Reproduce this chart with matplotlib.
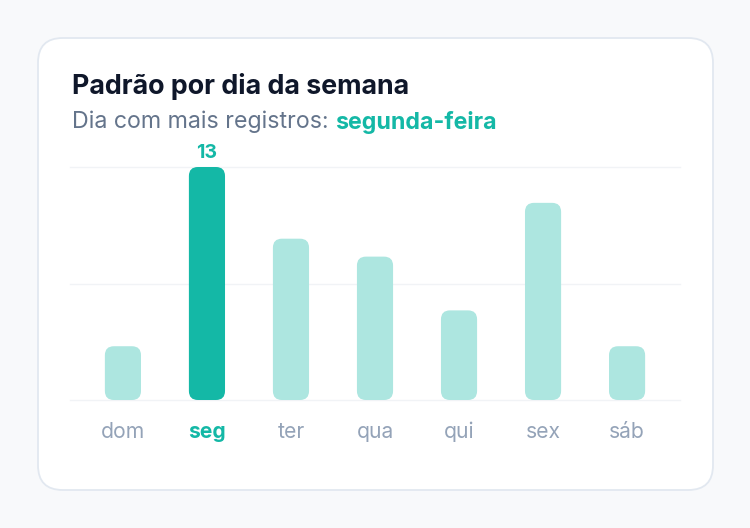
import numpy as np
import matplotlib.pyplot as plt
from matplotlib.patches import FancyBboxPatch

# dados
dias = ["dom", "seg", "ter", "qua", "qui", "sex", "sáb"]
registros = [3, 13, 9, 8, 5, 11, 3]
titulo = "Padrão por dia da semana"
subtitulo = "Dia com mais registros: "
destaque = "segunda-feira"

TEAL = "#14b8a6"
TEAL_CLARO = "#ade6e0"
CINZA = "#94a3b8"

W, H = 750, 528
fig = plt.figure(figsize=(W / 100, H / 100), dpi=100)
fig.patch.set_facecolor("#f8f9fb")

# cartão
card = FancyBboxPatch((38 / W, 38 / H), 675 / W, 452 / H,
                      boxstyle="round,pad=0,rounding_size=0.033",
                      mutation_aspect=W / H,
                      transform=fig.transFigure, facecolor="white",
                      edgecolor="#e2e8f0", linewidth=1.3, zorder=-5)
fig.patches.append(card)

fig.text(72 / W, 1 - 87 / H, titulo, fontsize=19.3, fontweight="bold",
         color="#0f172a", va="center", family="Inter")
t = fig.text(72 / W, 1 - 122 / H, subtitulo, fontsize=16.7,
             color="#64748b", va="center", family="Inter")
fig.canvas.draw()
bb = t.get_window_extent()
fig.text(bb.x1 / W, 1 - 122 / H, destaque, fontsize=16.7, fontweight="bold",
         color=TEAL, va="center", family="Inter")

ax = fig.add_axes([70 / W, (H - 400) / H, 610 / W, 233 / H], zorder=2)
ax.patch.set_visible(False)
ymax = max(registros)
x = np.arange(len(dias))
ax.set_xlim(-0.63, len(dias) - 1 + 0.63)
ax.set_ylim(0, ymax)
ax.axis("off")

for g in [0, ymax / 2, ymax]:
    ax.axhline(g, color="#f1f3f6", linewidth=1, zorder=0, clip_on=False)

imax = int(np.argmax(registros))
bars = ax.bar(x, registros, width=0.43)
px_x = 610 / (ax.get_xlim()[1] - ax.get_xlim()[0])
px_y = 233 / ymax
for i, b in enumerate(bars):
    b.set_visible(False)
    r = 9 / px_x
    p = FancyBboxPatch((b.get_x(), 0), b.get_width(), b.get_height(),
                       boxstyle=f"round,pad=0,rounding_size={r}",
                       mutation_aspect=px_x / px_y,
                       facecolor=TEAL if i == imax else TEAL_CLARO,
                       edgecolor="none", zorder=2, clip_on=False)
    ax.add_patch(p)

ax.text(x[imax], registros[imax] + 0.8, str(registros[imax]), ha="center",
        va="center", fontsize=14, fontweight="bold", color=TEAL,
        family="Inter")

for i, d in enumerate(dias):
    ax.text(x[i], -2.1, d, ha="center", va="baseline", fontsize=15.2,
            color=TEAL if i == imax else CINZA,
            fontweight="bold" if i == imax else "normal", family="Inter")

fig.savefig("out.png", dpi=100, facecolor=fig.get_facecolor())
